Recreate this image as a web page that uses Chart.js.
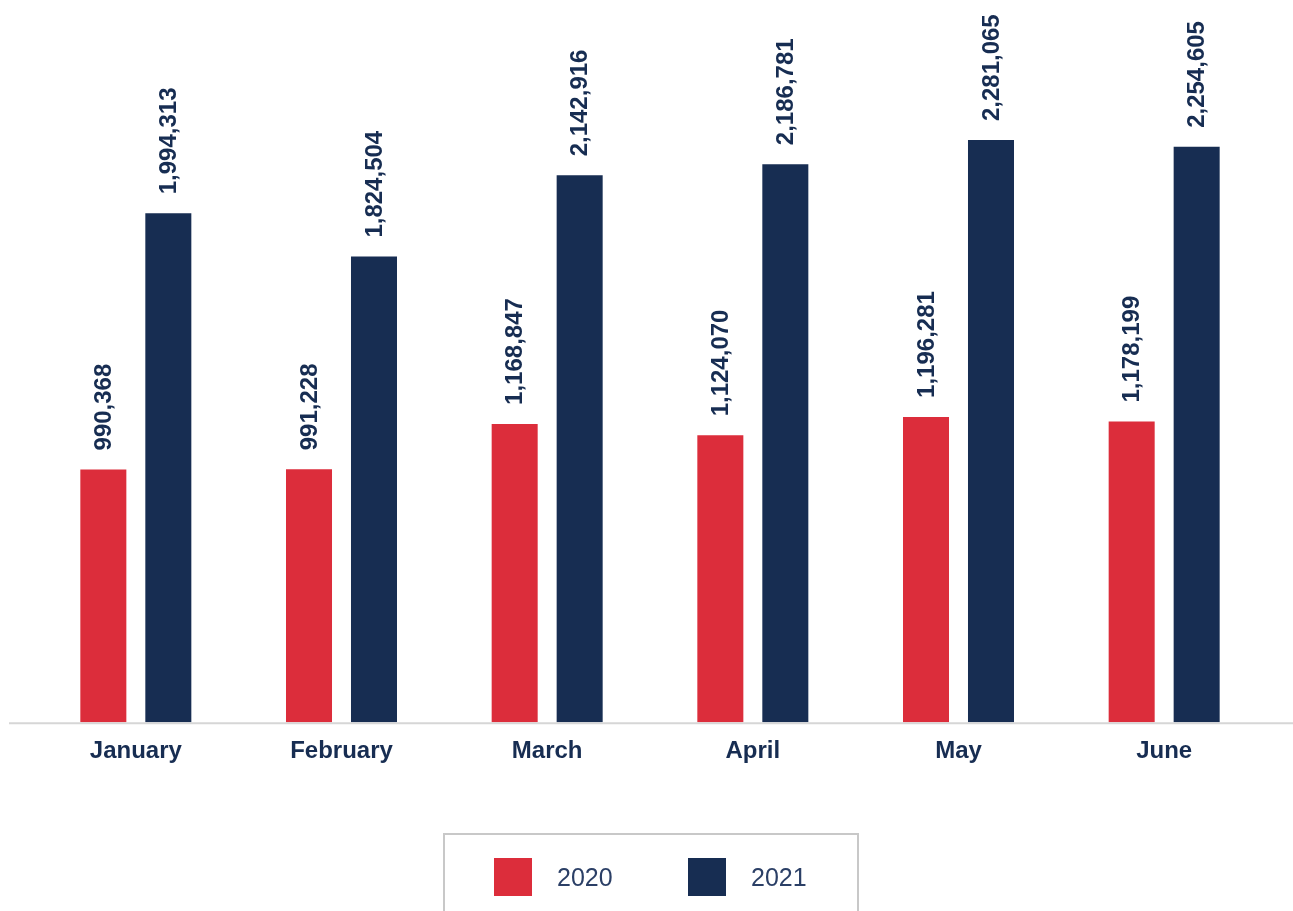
<!DOCTYPE html>
<html>
<head>
<meta charset="utf-8">
<script src="https://cdn.jsdelivr.net/npm/chart.js@4.4.1/dist/chart.umd.min.js"></script>
<style>
  html, body { margin: 0; padding: 0; background: #fff; overflow: hidden; }
  .wrap { position: relative; width: 1293px; height: 911px; }
  #chart { position: absolute; left: 0; top: 0; }
  .legend-box {
    position: absolute; left: 443px; top: 833px; width: 416px; height: 120px;
    border: 2px solid #c8c8c8; border-bottom: none; box-sizing: border-box;
  }
  .legend-item { position: absolute; top: 23px; display: flex; align-items: center; }
  .legend-item span.sw { width: 38px; height: 38px; display: inline-block; }
  .legend-item span.tx {
    margin-left: 25px; font-family: "Liberation Sans", Arial, sans-serif;
    font-size: 25px; color: #2b3f66; font-weight: 300;
  }
</style>
</head>
<body>
<div class="wrap">
  <canvas id="chart" width="1293" height="911"></canvas>
  <div class="legend-box" id="legend"></div>
</div>
<script>
const months = ['January', 'February', 'March', 'April', 'May', 'June'];
const values2020 = [990368, 991228, 1168847, 1124070, 1196281, 1178199];
const values2021 = [1994313, 1824504, 2142916, 2186781, 2281065, 2254605];
const seriesNames = ['2020', '2021'];
const seriesColors = ['#dc2d3b', '#172d52'];

const navy = '#172d52';
const fmt = (v) => v.toLocaleString('en-US');

// value labels turned on their side above each bar
const barLabels = {
  id: 'barLabels',
  afterDatasetsDraw(chart) {
    const ctx = chart.ctx;
    ctx.save();
    ctx.fillStyle = navy;
    ctx.font = 'bold 24px "Liberation Sans", Arial, sans-serif';
    ctx.textAlign = 'left';
    ctx.textBaseline = 'middle';
    chart.data.datasets.forEach((ds, i) => {
      chart.getDatasetMeta(i).data.forEach((bar, j) => {
        ctx.save();
        ctx.translate(bar.x, bar.y - 19);
        ctx.rotate(-Math.PI / 2);
        ctx.fillText(fmt(ds.data[j]), 0, 1);
        ctx.restore();
      });
    });
    ctx.restore();
  }
};

// grey base line running across the whole width
const baseLine = {
  id: 'baseLine',
  beforeDatasetsDraw(chart) {
    const ctx = chart.ctx;
    const y = chart.scales.y.getPixelForValue(0) + 1;
    ctx.save();
    ctx.strokeStyle = '#d6d6d6';
    ctx.lineWidth = 2;
    ctx.beginPath();
    ctx.moveTo(9, y);
    ctx.lineTo(chart.width, y);
    ctx.stroke();
    ctx.restore();
  }
};

const chart = new Chart(document.getElementById('chart'), {
  type: 'bar',
  data: {
    labels: months,
    datasets: [
      { label: seriesNames[0], data: values2020, backgroundColor: seriesColors[0] },
      { label: seriesNames[1], data: values2021, backgroundColor: seriesColors[1] },
    ],
  },
  options: {
    responsive: false,
    animation: false,
    layout: { padding: { left: 33, right: 26, top: 0, bottom: 138 } },
    datasets: { bar: { categoryPercentage: 0.632, barPercentage: 0.708 } },
    scales: {
      x: {
        grid: { display: false },
        border: { display: false },
        ticks: {
          padding: 7,
          color: navy,
          font: { family: '"Liberation Sans", Arial, sans-serif', size: 24, weight: 'bold' },
        },
      },
      y: { display: false, min: 0, max: 2830000 },
    },
    plugins: {
      legend: { display: false },
      tooltip: { enabled: false },
    },
  },
  plugins: [baseLine, barLabels],
});

// legend in a bordered box under the chart
const legend = document.getElementById('legend');
const itemLefts = [49, 243];
chart.data.datasets.forEach((ds, i) => {
  const item = document.createElement('div');
  item.className = 'legend-item';
  item.style.left = itemLefts[i] + 'px';
  item.innerHTML = '<span class="sw" style="background:' + ds.backgroundColor + '"></span><span class="tx">' + ds.label + '</span>';
  legend.appendChild(item);
});
</script>
</body>
</html>
